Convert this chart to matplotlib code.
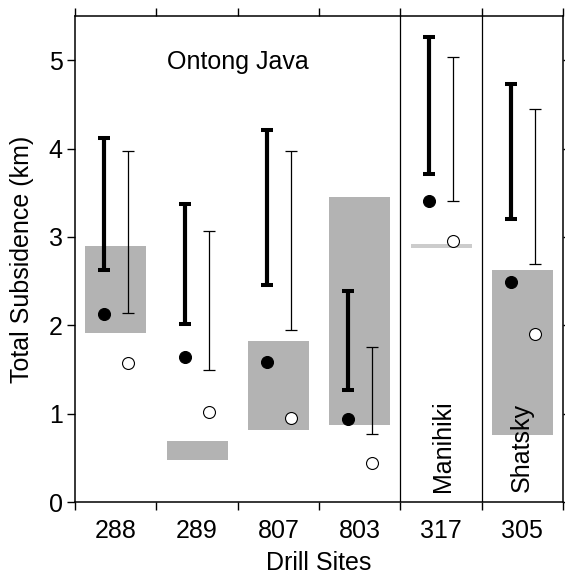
import numpy as np
import matplotlib
matplotlib.use("Agg")
import matplotlib.pyplot as plt
from matplotlib.ticker import FixedLocator

plt.rcParams["font.family"] = ["Liberation Sans", "DejaVu Sans"]

# values (km)
sites = ["288", "289", "807", "803", "317", "305"]
thick_lo = [2.63, 2.01, 2.455, 1.267, 3.71, 3.20]
thick_hi = [4.125, 3.37, 4.21, 2.39, 5.265, 4.725]
thin_lo = [2.14, 1.49, 1.95, 0.77, 3.405, 2.69]
thin_hi = [3.97, 3.07, 3.97, 1.75, 5.04, 4.445]
filled_pt = [2.13, 1.64, 1.587, 0.94, 3.405, 2.49]
open_pt = [1.576, 1.02, 0.947, 0.438, 2.956, 1.90]
box_lo = [1.91, 0.475, 0.82, 0.871, 2.875, 0.758]
box_hi = [2.90, 0.69, 1.82, 3.447, 2.925, 2.63]
box_col = ["#b3b3b3", "#b3b3b3", "#b3b3b3", "#b3b3b3", "#cccccc", "#b3b3b3"]

FS = 18
INK = "black"

fig = plt.figure(figsize=(5.65, 5.76), dpi=100)
ax = fig.add_axes([75 / 565, 74 / 576, 488 / 565, 486 / 576])

xc = np.arange(len(sites)) + 0.5
x_thick = xc - 0.145
x_thin = xc + 0.15

lo_t, hi_t = np.array(thick_lo), np.array(thick_hi)
lo_n, hi_n = np.array(thin_lo), np.array(thin_hi)
blo, bhi = np.array(box_lo), np.array(box_hi)

ax.bar(xc, bhi - blo, bottom=blo, width=0.75, color=box_col, edgecolor="none", zorder=1)

ax.errorbar(x_thick, lo_t, yerr=[np.zeros_like(lo_t), hi_t - lo_t], fmt="none",
            ecolor=INK, elinewidth=3.0, capsize=4.4, capthick=2.9, zorder=3)
ax.errorbar(x_thin, lo_n, yerr=[np.zeros_like(lo_n), hi_n - lo_n], fmt="none",
            ecolor=INK, elinewidth=0.9, capsize=4.6, capthick=0.9, zorder=3)

ax.plot(x_thick, filled_pt, "o", ms=8.6, color=INK, mec=INK, mew=0.8, ls="none", zorder=4)
ax.plot(x_thin, open_pt, "o", ms=8.6, color="white", mec=INK, mew=0.8, ls="none", zorder=4)

for xb in (4, 5):
    ax.axvline(xb, color=INK, lw=0.9, zorder=2)

ax.text(2.0, 4.98, "Ontong Java", fontsize=FS, ha="center", va="center", color=INK)
ax.text(4.52, 0.11, "Manihiki", fontsize=FS, rotation=90, ha="center", va="bottom", color=INK)
ax.text(5.49, 0.11, "Shatsky", fontsize=FS, rotation=90, ha="center", va="bottom", color=INK)

ax.set_xlim(0, len(sites))
ax.set_ylim(0, 5.5)

ax.xaxis.set_major_locator(FixedLocator(xc))
ax.set_xticklabels(sites, fontsize=FS)
ax.xaxis.set_minor_locator(FixedLocator(np.arange(len(sites) + 1)))
ax.tick_params(axis="x", which="major", length=0, pad=12)
ax.tick_params(axis="x", which="minor", length=8 * 0.72, width=1.0, direction="out",
               top=True, bottom=True)

ax.set_yticks([0, 1, 2, 3, 4, 5])
ax.set_yticklabels(["0", "1", "2", "3", "4", "5"], fontsize=FS)
ax.tick_params(axis="y", which="major", length=8 * 0.72, width=1.0, direction="out",
               pad=3, right=True)

for s in ax.spines.values():
    s.set_linewidth(1.1)

ax.set_xlabel("Drill Sites", fontsize=FS, labelpad=6)
ax.set_ylabel("Total Subsidence (km)", fontsize=FS, labelpad=11)

fig.savefig("out.png", dpi=100, facecolor="white")
